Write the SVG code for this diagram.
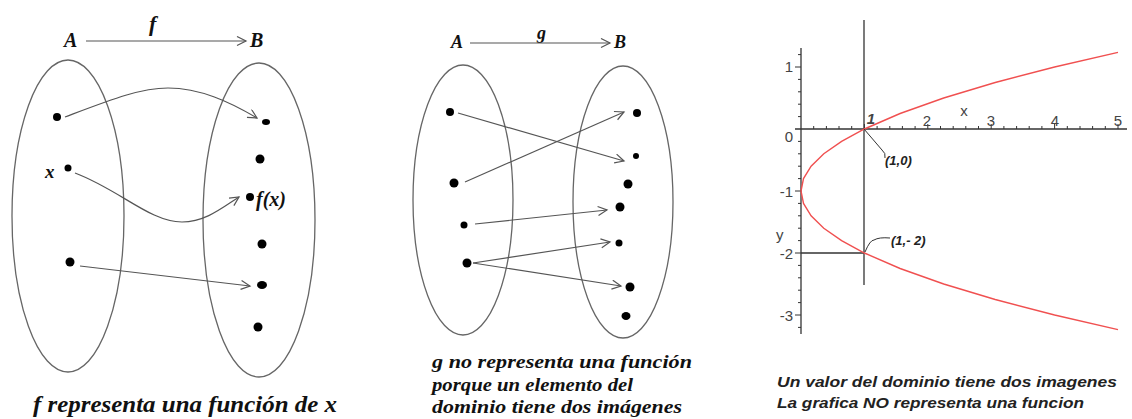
<svg xmlns="http://www.w3.org/2000/svg" width="1132" height="419" viewBox="0 0 1132 419">
<defs>
<style>
.ell{fill:none;stroke:#666;stroke-width:1.3}
.con{fill:none;stroke:#555;stroke-width:1.2}
.dot{fill:#000}
.lbl{font-family:"Liberation Serif",serif;font-weight:bold;font-style:italic;fill:#111}
.cap{font-family:"Liberation Serif",serif;font-weight:bold;font-style:italic;fill:#111}
.ax{fill:none;stroke:#333;stroke-width:1.3}
.tick{fill:none;stroke:#333;stroke-width:1}
.num{font-family:"Liberation Sans",Arial,sans-serif;font-size:15px;fill:#444}
.call{font-family:"Liberation Sans",Arial,sans-serif;font-weight:bold;font-style:italic;font-size:13px;fill:#222}
.rcap{font-family:"Liberation Sans",Arial,sans-serif;font-weight:bold;font-style:italic;font-size:14.5px;fill:#222}
</style>
<marker id="arr" markerWidth="12" markerHeight="12" refX="10" refY="5" orient="auto" markerUnits="userSpaceOnUse">
<path d="M1,0.5 L10,5 L1,9.5" fill="none" stroke="#555" stroke-width="1.2"/>
</marker>
</defs>
<rect width="1132" height="419" fill="#fff"/>

<!-- Left diagram: f -->
<g id="f-header">
<text class="lbl" x="64" y="47" font-size="20">A</text>
<text class="lbl" x="149" y="31" font-size="22">f</text>
<text class="lbl" x="250" y="47" font-size="20">B</text>
</g>
<g id="f-setA">
<ellipse class="ell" cx="68" cy="216" rx="56" ry="156"/>
<circle class="dot" cx="57" cy="117" r="4"/>
<circle class="dot" cx="68" cy="168" r="3.5"/>
<circle class="dot" cx="70" cy="262" r="4.5"/>
<text class="lbl" x="45" y="178" font-size="19">x</text>
</g>
<g id="f-setB">
<ellipse class="ell" cx="259" cy="220" rx="56" ry="157"/>
<ellipse class="dot" cx="266" cy="122" rx="4" ry="3"/>
<circle class="dot" cx="260" cy="159" r="4.5"/>
<circle class="dot" cx="250" cy="197" r="4"/>
<circle class="dot" cx="262" cy="244" r="4.5"/>
<ellipse class="dot" cx="262" cy="285" rx="5" ry="4"/>
<circle class="dot" cx="258" cy="327" r="4.5"/>
<text class="lbl" x="256" y="206" font-size="20">f(x)</text>
</g>
<g id="f-caption">
<text class="cap" x="33" y="412" font-size="23" textLength="304" lengthAdjust="spacingAndGlyphs">f  representa una función de x</text>
</g>

<!-- Middle diagram: g -->
<g id="g-header">
<text class="lbl" x="451" y="48" font-size="18">A</text>
<text class="lbl" x="537" y="39" font-size="18">g</text>
<text class="lbl" x="614" y="48" font-size="18">B</text>
</g>
<g id="g-setA">
<ellipse class="ell" cx="463" cy="200" rx="50" ry="135"/>
<circle class="dot" cx="450" cy="112" r="4"/>
<circle class="dot" cx="454" cy="183" r="4.5"/>
<circle class="dot" cx="464" cy="225" r="3.5"/>
<circle class="dot" cx="467" cy="263" r="4.5"/>
</g>
<g id="g-setB">
<ellipse class="ell" cx="623" cy="202" rx="50" ry="136"/>
<circle class="dot" cx="637" cy="113" r="4"/>
<circle class="dot" cx="636" cy="156" r="3"/>
<circle class="dot" cx="628" cy="184" r="4.5"/>
<circle class="dot" cx="620" cy="207" r="4.5"/>
<circle class="dot" cx="619" cy="243" r="3.5"/>
<circle class="dot" cx="630" cy="287" r="4.5"/>
<ellipse class="dot" cx="626" cy="316" rx="4.5" ry="4"/>
</g>
<g id="g-caption">
<text class="cap" x="432" y="368" font-size="18.5" textLength="260" lengthAdjust="spacingAndGlyphs">g  no representa una función</text>
<text class="cap" x="432" y="391" font-size="18.5" textLength="201" lengthAdjust="spacingAndGlyphs">porque un elemento del</text>
<text class="cap" x="432" y="413" font-size="18.5" textLength="250" lengthAdjust="spacingAndGlyphs">dominio tiene dos imágenes</text>
</g>

<!-- Connectors -->
<g id="connectors">
<line class="con" x1="86" y1="41" x2="246" y2="41" marker-end="url(#arr)"/>
<line class="con" x1="470" y1="43" x2="610" y2="43" marker-end="url(#arr)"/>
<path class="con" d="M65,117 C110,100 140,88 168,88 C200,88 230,102 257,118" marker-end="url(#arr)"/>
<path class="con" d="M75,173 C120,190 150,222 182,222 C205,222 222,208 239,197" marker-end="url(#arr)"/>
<line class="con" x1="80" y1="266" x2="250" y2="286" marker-end="url(#arr)"/>
<line class="con" x1="458" y1="113" x2="624" y2="161" marker-end="url(#arr)"/>
<line class="con" x1="465" y1="182" x2="624" y2="112" marker-end="url(#arr)"/>
<line class="con" x1="475" y1="224" x2="607" y2="210" marker-end="url(#arr)"/>
<line class="con" x1="473" y1="263" x2="610" y2="242" marker-end="url(#arr)"/>
<line class="con" x1="473" y1="263" x2="621" y2="286" marker-end="url(#arr)"/>
</g>

<!-- Right graph -->
<g id="graph">
<path class="tick" d="M798,54.6H801M798,79.4H801M798,91.8H801M798,104.2H801M798,116.6H801M798,141.4H801M798,153.8H801M798,166.2H801M798,178.6H801M798,203.4H801M798,215.8H801M798,228.2H801M798,240.6H801M798,265.4H801M798,277.8H801M798,290.2H801M798,302.6H801M798,327.4H801"/>
<path class="tick" d="M795,67H801M795,191H801M795,253H801M795,315H801"/>
<path class="tick" d="M813.7,126V129M826.4,126V129M839,126V129M851.7,126V129M877.1,126V129M889.8,126V129M902.4,126V129M915.1,126V129M940.5,126V129M953.2,126V129M965.8,126V129M978.5,126V129M1003.9,126V129M1016.6,126V129M1029.2,126V129M1041.9,126V129M1067.3,126V129M1080,126V129M1092.6,126V129M1105.3,126V129"/>
<path class="tick" d="M864.4,124V129M927.8,124V129M991.2,124V129M1054.6,124V129M1118,124V129"/>
<line class="ax" x1="801" y1="48" x2="801" y2="334"/>
<line class="ax" x1="795" y1="129" x2="1127" y2="129"/>
<line class="ax" x1="864" y1="20" x2="864" y2="285"/>
<line class="ax" x1="801" y1="253" x2="864" y2="253"/>
<polyline fill="none" stroke="#f05050" stroke-width="1.4" points="1118,52.4 1054.6,67 995.2,82.5 943.7,98 900.1,113.5 864.4,129 841.6,141.4 823.8,153.8 811.1,166.2 803.5,178.6 801,191 803.5,203.4 811.1,215.8 823.8,228.2 841.6,240.6 864.4,253 900.1,268.5 943.7,284 995.2,299.5 1054.6,315 1118,329.6"/>
<text class="num" x="793" y="72" text-anchor="end">1</text>
<text class="num" x="793" y="142" text-anchor="end">0</text>
<text class="num" x="793" y="197" text-anchor="end">-1</text>
<text class="num" x="793" y="259" text-anchor="end">-2</text>
<text class="num" x="793" y="321" text-anchor="end">-3</text>
<text class="num" x="776" y="240">y</text>
<text class="num" x="871" y="124" text-anchor="middle" font-style="italic" font-weight="bold">1</text>
<text class="num" x="927" y="126" text-anchor="middle">2</text>
<text class="num" x="964" y="116" text-anchor="middle">x</text>
<text class="num" x="991" y="126" text-anchor="middle">3</text>
<text class="num" x="1055" y="126" text-anchor="middle">4</text>
<text class="num" x="1118" y="126" text-anchor="middle">5</text>
<path class="tick" d="M864,129 L882,150 Q886,153 885,158"/>
<path class="tick" d="M865,252 Q870,240 874,240 Q879,237 890,238"/>
<text class="call" x="885" y="165">(1,0)</text>
<text class="call" x="891" y="245">(1,- 2)</text>
</g>
<g id="graph-caption">
<text class="rcap" x="777" y="387" textLength="340" lengthAdjust="spacingAndGlyphs">Un valor del dominio tiene dos imagenes</text>
<text class="rcap" x="777" y="408" textLength="307" lengthAdjust="spacingAndGlyphs">La grafica NO representa una funcion</text>
</g>
</svg>
